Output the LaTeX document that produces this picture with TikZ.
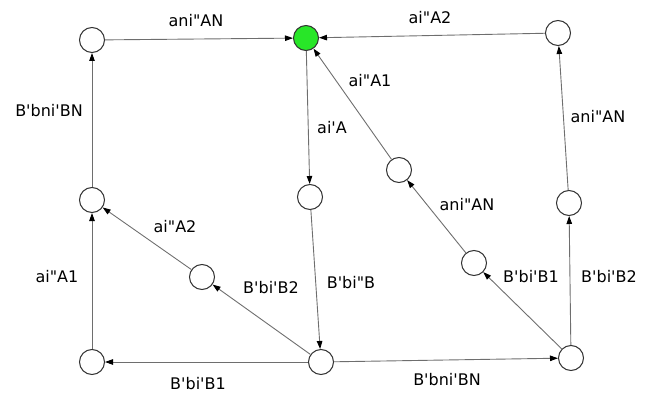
\documentclass[tikz,border=0pt]{standalone}
\usepackage{fontspec}
\newfontfamily\lblfont{DejaVu Sans}
\usetikzlibrary{arrows.meta}
\definecolor{edgegray}{RGB}{110,110,110}
\definecolor{vgreen}{RGB}{40,230,40}
\tikzset{
  vert/.style={circle,draw={rgb,255:red,50;green,50;blue,50},line width=1pt,fill=white,minimum size=25pt,inner sep=0pt},
  goal/.style={vert,fill=vgreen},
  edge/.style={draw=edgegray,line width=0.9pt,-{Triangle[length=8pt,width=5.5pt,color=black]}},
  lbl/.style={font=\lblfont\fontsize{16}{18}\selectfont,inner sep=0pt,text=black}
}
\begin{document}
\begin{tikzpicture}[x=1pt,y=-1pt]
\useasboundingbox (0,0) rectangle (646,396);
% vertices
\node[vert] (tl) at (92,40) {};
\node[goal] (g) at (306,38) {};
\node[vert] (tr) at (558,33) {};
\node[vert] (lm) at (92,200) {};
\node[vert] (cm) at (310,197) {};
\node[vert] (ru) at (399,170) {};
\node[vert] (rm) at (569,203) {};
\node[vert] (ld) at (202,277) {};
\node[vert] (rd) at (474,263) {};
\node[vert] (bl) at (92,362) {};
\node[vert] (bc) at (321,362) {};
\node[vert] (br) at (571,358) {};
% edges
\draw[edge] (tl) -- (g);
\draw[edge] (tr) -- (g);
\draw[edge] (g) -- (cm);
\draw[edge] (ru) -- (g);
\draw[edge] (bl) -- (lm);
\draw[edge] (lm) -- (tl);
\draw[edge] (cm) -- (bc);
\draw[edge] (bc) -- (bl);
\draw[edge] (bc) -- (ld);
\draw[edge] (ld) -- (lm);
\draw[edge] (bc) -- (br);
\draw[edge] (br) -- (rd);
\draw[edge] (rd) -- (ru);
\draw[edge] (br) -- (rm);
\draw[edge] (rm) -- (tr);
% labels
\node[lbl] (l1) at (196,21) {ani"AN};
\node[lbl] (l2) at (430,18) {ai"A2};
\node[lbl] (l3) at (370,81) {ai"A1};
\node[lbl] (l4) at (332,128) {ai'A};
\node[lbl] (l5) at (598,117) {ani"AN};
\node[lbl] (l6) at (49,111) {B'bni'BN};
\node[lbl] (l7) at (57,277) {ai"A1};
\node[lbl] (l8) at (175,227) {ai"A2};
\node[lbl] (l9) at (271,288) {B'bi'B2};
\node[lbl] (l10) at (351,283) {B'bi"B};
\node[lbl] (l11) at (198,384) {B'bi'B1};
\node[lbl] (l12) at (447,380) {B'bni'BN};
\node[lbl] (l13) at (531,277) {B'bi'B1};
\node[lbl] (l14) at (609,277) {B'bi'B2};
\node[lbl] (l15) at (467,205) {ani"AN};
\end{tikzpicture}
\end{document}
